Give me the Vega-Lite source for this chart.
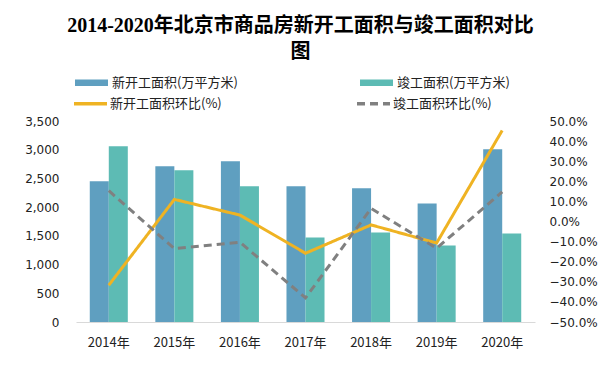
{
  "$schema": "https://vega.github.io/schema/vega-lite/v6.json",
  "width": 459,
  "height": 201,
  "autosize": "none",
  "padding": {"left": 76, "top": 121, "right": 68, "bottom": 44},
  "background": "white",
  "config": {"view": {"stroke": null}, "font": "Noto Sans CJK SC"},
  "title": {
    "text": ["2014-2020年北京市商品房新开工面积与竣工面积对比", "图"],
    "fontSize": 20,
    "font": "Liberation Serif, Noto Sans CJK SC",
    "fontWeight": "bold",
    "color": "#000000",
    "anchor": "middle",
    "dx": -5,
    "offset": 4,
    "lineHeight": 26
  },
  "datasets": {
    "bars": [
      {"year": "2014年", "series": "新开工面积(万平方米)", "value": 2450},
      {"year": "2014年", "series": "竣工面积(万平方米)", "value": 3062},
      {"year": "2015年", "series": "新开工面积(万平方米)", "value": 2712},
      {"year": "2015年", "series": "竣工面积(万平方米)", "value": 2642},
      {"year": "2016年", "series": "新开工面积(万平方米)", "value": 2800},
      {"year": "2016年", "series": "竣工面积(万平方米)", "value": 2362},
      {"year": "2017年", "series": "新开工面积(万平方米)", "value": 2362},
      {"year": "2017年", "series": "竣工面积(万平方米)", "value": 1470},
      {"year": "2018年", "series": "新开工面积(万平方米)", "value": 2327},
      {"year": "2018年", "series": "竣工面积(万平方米)", "value": 1557},
      {"year": "2019年", "series": "新开工面积(万平方米)", "value": 2065},
      {"year": "2019年", "series": "竣工面积(万平方米)", "value": 1330},
      {"year": "2020年", "series": "新开工面积(万平方米)", "value": 3010},
      {"year": "2020年", "series": "竣工面积(万平方米)", "value": 1540}
    ],
    "lines": [
      {"year": "2014年", "series": "新开工面积环比(%)", "value": -0.317},
      {"year": "2015年", "series": "新开工面积环比(%)", "value": 0.11},
      {"year": "2016年", "series": "新开工面积环比(%)", "value": 0.032},
      {"year": "2017年", "series": "新开工面积环比(%)", "value": -0.158},
      {"year": "2018年", "series": "新开工面积环比(%)", "value": -0.017},
      {"year": "2019年", "series": "新开工面积环比(%)", "value": -0.107},
      {"year": "2020年", "series": "新开工面积环比(%)", "value": 0.453},
      {"year": "2014年", "series": "竣工面积环比(%)", "value": 0.153},
      {"year": "2015年", "series": "竣工面积环比(%)", "value": -0.135},
      {"year": "2016年", "series": "竣工面积环比(%)", "value": -0.103},
      {"year": "2017年", "series": "竣工面积环比(%)", "value": -0.38},
      {"year": "2018年", "series": "竣工面积环比(%)", "value": 0.065},
      {"year": "2019年", "series": "竣工面积环比(%)", "value": -0.133},
      {"year": "2020年", "series": "竣工面积环比(%)", "value": 0.147}
    ]
  },
  "layer": [
    {
      "data": {"name": "bars"},
      "mark": {"type": "bar"},
      "encoding": {
        "x": {
          "field": "year", "type": "nominal", "sort": null,
          "scale": {"paddingInner": 0.42, "paddingOuter": 0.21},
          "axis": {"title": null, "labelAngle": 0, "ticks": false, "domain": true, "domainColor": "#d9d9d9", "domainWidth": 1, "labelPadding": 14, "labelFontSize": 13, "labelColor": "#222222", "labelFont": "Noto Sans CJK SC"}
        },
        "xOffset": {"field": "series", "type": "nominal", "sort": ["新开工面积(万平方米)", "竣工面积(万平方米)"]},
        "y": {
          "field": "value", "type": "quantitative",
          "scale": {"domain": [0, 3500], "nice": false},
          "axis": {"title": null, "values": [0, 500, 1000, 1500, 2000, 2500, 3000, 3500], "format": ",.0f", "domain": false, "ticks": false, "grid": false, "labelPadding": 17, "labelFontSize": 12, "labelFont": "DejaVu Sans", "labelColor": "#222222"}
        },
        "fill": {
          "field": "series", "type": "nominal",
          "scale": {"domain": ["新开工面积(万平方米)", "竣工面积(万平方米)"], "range": ["#5F9FC0", "#5DBBB4"]},
          "legend": {
            "title": null, "orient": "none", "legendX": -1, "legendY": -55, "direction": "horizontal", "columns": 2, "columnPadding": 122,
            "symbolType": "M-1,-0.2H1V0.2H-1Z", "symbolSize": 1089, "symbolStrokeWidth": 0,
            "labelFontSize": 13, "labelFont": "Noto Sans CJK SC", "labelColor": "#222222", "labelOffset": 4, "labelLimit": 300
          }
        }
      }
    },
    {
      "data": {"name": "lines"},
      "mark": {"type": "line", "strokeWidth": 3},
      "encoding": {
        "x": {"field": "year", "type": "nominal", "sort": null},
        "y": {
          "field": "value", "type": "quantitative",
          "scale": {"domain": [-0.5, 0.5], "nice": false},
          "axis": {"orient": "right", "title": null, "values": [-0.5, -0.4, -0.3, -0.2, -0.1, 0, 0.1, 0.2, 0.3, 0.4, 0.5], "format": ".1%", "domain": false, "ticks": false, "grid": false, "labelPadding": 14, "labelFontSize": 12, "labelFont": "DejaVu Sans", "labelColor": "#222222"}
        },
        "stroke": {
          "field": "series", "type": "nominal",
          "scale": {"domain": ["新开工面积环比(%)", "竣工面积环比(%)"], "range": ["#EFB323", "#808080"]},
          "legend": {
            "title": null, "orient": "none", "legendX": -4, "legendY": -36, "direction": "horizontal", "columns": 2, "columnPadding": 128,
            "symbolType": "stroke", "symbolSize": 1089, "symbolStrokeWidth": 3.5,
            "labelFontSize": 13, "labelFont": "Noto Sans CJK SC", "labelColor": "#222222", "labelOffset": 1, "labelLimit": 300
          }
        },
        "strokeDash": {
          "field": "series", "type": "nominal",
          "scale": {"domain": ["新开工面积环比(%)", "竣工面积环比(%)"], "range": [[1, 0], [8, 5]]},
          "legend": {
            "title": null, "orient": "none", "legendX": -4, "legendY": -36, "direction": "horizontal", "columns": 2, "columnPadding": 128,
            "symbolType": "stroke", "symbolSize": 1089, "symbolStrokeWidth": 3.5,
            "labelFontSize": 13, "labelFont": "Noto Sans CJK SC", "labelColor": "#222222", "labelOffset": 1, "labelLimit": 300
          }
        }
      }
    }
  ],
  "resolve": {"scale": {"y": "independent", "fill": "independent", "stroke": "independent", "strokeDash": "independent"}}
}
